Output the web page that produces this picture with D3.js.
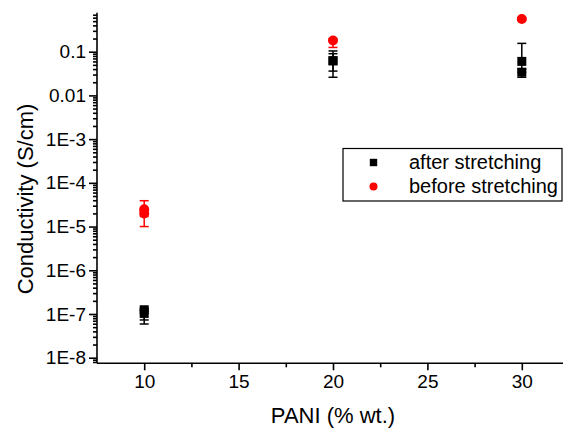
<!DOCTYPE html>
<html>
<head>
<meta charset="utf-8">
<script src="https://cdn.jsdelivr.net/npm/d3@7"></script>
<style>
  html, body { margin: 0; padding: 0; background: #fff; }
  svg { display: block; font-family: "Liberation Sans", Arial, sans-serif; }
</style>
</head>
<body>
<svg id="chart" width="563" height="430"></svg>
<script>
// ---- data ----
const xTickValues = [10, 15, 20, 25, 30];
const xMinorValues = [12.5, 17.5, 22.5, 27.5, 32.5];
const yTickValues = [1e-1, 1e-2, 1e-3, 1e-4, 1e-5, 1e-6, 1e-7, 1e-8];
const yTickLabels = ["0.1", "0.01", "1E-3", "1E-4", "1E-5", "1E-6", "1E-7", "1E-8"];

// after stretching (black squares)
const afterX    = [10, 10, 20, 20, 30, 30];
const afterY    = [1.25e-7, 1.03e-7, 0.062, 0.062, 0.060, 0.034];
const afterLow  = [7.3e-8, 5.9e-8, 0.036, 0.026, 0.034, 0.026];
const afterHigh = [1.35e-7, 1.2e-7, 0.104, 0.090, 0.155, 0.040];

// before stretching (red circles)
const beforeX    = [10, 10, 20, 30];
const beforeY    = [2.5e-5, 2.0e-5, 0.18, 0.56];
const beforeLow  = [1.0e-5, 1.7e-5, 0.125, 0.52];
const beforeHigh = [3.9e-5, 2.3e-5, 0.20, 0.60];

const legendLabels = ["after stretching", "before stretching"];
const colors = ["#000000", "#ff0000"];

// ---- layout ----
const svg = d3.select("#chart");
const x = d3.scaleLinear().domain([7.5, 32.5]).range([97, 569]);
const y = d3.scaleLog().domain([Math.pow(10, -8.128), Math.pow(10, -0.108)]).range([363.3, 12.7]);

// minor log ticks
const yMinor = [];
for (let e = -9; e <= 0; e++) {
  for (let k = 2; k <= 9; k++) {
    const v = k * Math.pow(10, e);
    if (v >= y.domain()[0] && v <= y.domain()[1]) yMinor.push(v);
  }
}

const axisColor = "#000";
const g = svg.append("g");

// Y axis
const yAxis = d3.axisLeft(y).tickValues(yTickValues)
  .tickFormat((d, i) => yTickLabels[i]).tickSize(8).tickPadding(3);
const yg = g.append("g").attr("transform", "translate(97,0)").call(yAxis);
yg.select(".domain").attr("d", `M0,${y.range()[1]}V${y.range()[0]}`);
const yMinorAxis = d3.axisLeft(y).tickValues(yMinor).tickFormat("").tickSize(4);
const ymg = g.append("g").attr("transform", "translate(97,0)").call(yMinorAxis);
ymg.select(".domain").remove();

// X axis
const xAxis = d3.axisBottom(x).tickValues(xTickValues).tickFormat(d3.format("d")).tickSize(7).tickPadding(4);
const xg = g.append("g").attr("transform", "translate(0,363.3)").call(xAxis);
xg.select(".domain").attr("d", `M${x.range()[0]},0H${x.range()[1]}`);
const xMinorAxis = d3.axisBottom(x).tickValues(xMinorValues).tickFormat("").tickSize(4);
const xmg = g.append("g").attr("transform", "translate(0,363.3)").call(xMinorAxis);
xmg.select(".domain").remove();

svg.selectAll(".domain, .tick line").attr("stroke", axisColor).attr("stroke-width", 1.6);
svg.selectAll(".tick text").attr("fill", "#000").style("font-size", "19px")
  .style("font-family", "'Liberation Sans', Arial, sans-serif");

// Titles
svg.append("text").attr("x", 333).attr("y", 423).attr("text-anchor", "middle")
  .style("font-size", "22px").text("PANI (% wt.)");
svg.append("text").attr("transform", "translate(33,199) rotate(-90)").attr("text-anchor", "middle")
  .style("font-size", "22px").text("Conductivity (S/cm)");

// Error bars + markers
function drawSeries(xs, ys, lo, hi, color, shape) {
  const eg = svg.append("g").attr("stroke", color).attr("stroke-width", 1.5);
  xs.forEach((xv, i) => {
    const cx = x(xv);
    eg.append("line").attr("x1", cx).attr("x2", cx).attr("y1", y(lo[i])).attr("y2", y(hi[i]));
    [lo[i], hi[i]].forEach(v => {
      eg.append("line").attr("x1", cx - 4.5).attr("x2", cx + 4.5).attr("y1", y(v)).attr("y2", y(v));
    });
  });
  const mg = svg.append("g").attr("fill", color);
  xs.forEach((xv, i) => {
    const cx = x(xv), cy = y(ys[i]);
    if (shape === "square") {
      mg.append("rect").attr("x", cx - 4.5).attr("y", cy - 4.5).attr("width", 9).attr("height", 9);
    } else {
      mg.append("circle").attr("cx", cx).attr("cy", cy).attr("r", 5);
    }
  });
}
drawSeries(afterX, afterY, afterLow, afterHigh, colors[0], "square");
drawSeries(beforeX, beforeY, beforeLow, beforeHigh, colors[1], "circle");

// Legend
const lg = svg.append("g");
lg.append("rect").attr("x", 343).attr("y", 148.5).attr("width", 219).attr("height", 52.5)
  .attr("fill", "#fff").attr("stroke", "#000").attr("stroke-width", 1.2);
lg.append("rect").attr("x", 373.5 - 3.7).attr("y", 162.5 - 3.7).attr("width", 7.4).attr("height", 7.4).attr("fill", colors[0]);
lg.append("circle").attr("cx", 373.5).attr("cy", 186.5).attr("r", 4).attr("fill", colors[1]);
lg.append("text").attr("x", 409).attr("y", 168.5).style("font-size", "20px").text(legendLabels[0]);
lg.append("text").attr("x", 409).attr("y", 192.5).style("font-size", "20px").text(legendLabels[1]);
</script>
</body>
</html>
